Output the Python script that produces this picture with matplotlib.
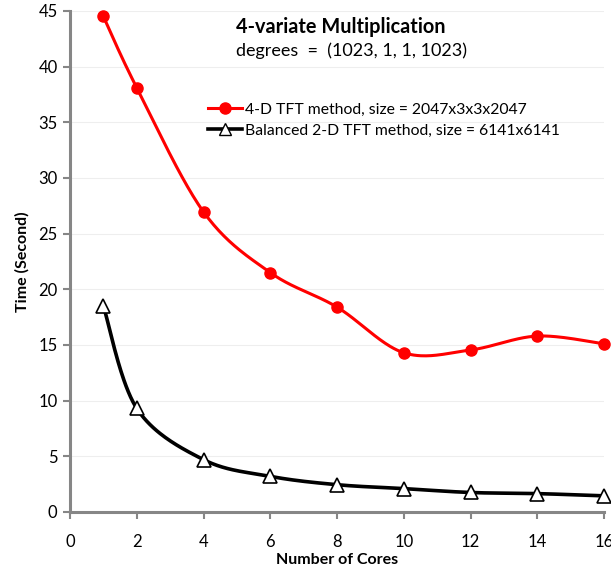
import numpy as np
import matplotlib
matplotlib.use('Agg')
import matplotlib.pyplot as plt

plt.rcParams['font.family'] = ['Lato', 'DejaVu Sans']

cores = [1, 2, 4, 6, 8, 10, 12, 14, 16]
tft4d = [44.5, 38.1, 26.95, 21.5, 18.4, 14.3, 14.55, 15.8, 15.1]
tft2d = [18.5, 9.3, 4.7, 3.2, 2.45, 2.1, 1.75, 1.65, 1.45]


def smooth(xs, ys, n=40):
    # Excel-style smoothed line: cubic Bezier segments with Catmull-Rom controls
    x = np.asarray(xs, float)
    y = np.asarray(ys, float)
    px = np.concatenate([[x[0]], x, [x[-1]]])
    py = np.concatenate([[y[0]], y, [y[-1]]])
    t = np.linspace(0, 1, n)
    ox, oy = [], []
    for i in range(len(x) - 1):
        p0 = np.array([px[i + 1], py[i + 1]])
        p3 = np.array([px[i + 2], py[i + 2]])
        c1 = p0 + (np.array([px[i + 2], py[i + 2]]) - np.array([px[i], py[i]])) / 6
        c2 = p3 - (np.array([px[i + 3], py[i + 3]]) - np.array([px[i + 1], py[i + 1]])) / 6
        b = (np.outer((1 - t) ** 3, p0) + np.outer(3 * (1 - t) ** 2 * t, c1)
             + np.outer(3 * (1 - t) * t ** 2, c2) + np.outer(t ** 3, p3))
        ox.extend(b[:, 0])
        oy.extend(b[:, 1])
    return ox, oy


fig = plt.figure(figsize=(6.11, 5.75), dpi=100)
ax = fig.add_axes([0.1146, 0.1096, 0.874, 0.8714])

sx, sy = smooth(cores, tft4d)
ax.plot(sx, sy, color='#ff0000', lw=2.2, clip_on=False)
ax.plot(cores, tft4d, 'o', color='#ff0000', ms=8, clip_on=False)
sx, sy = smooth(cores, tft2d)
ax.plot(sx, sy, color='black', lw=2.6, clip_on=False)
ax.plot(cores, tft2d, '^', mfc='white', mec='black', mew=1.2, ms=10,
        clip_on=False)

ax.set_xlim(0, 16)
ax.set_ylim(0, 45)
ax.set_xticks(range(0, 17, 2))
ax.set_yticks(range(0, 46, 5))
ax.grid(axis='y', color='#eeeeee', lw=0.8)
ax.set_axisbelow(True)
for s in ['top', 'right']:
    ax.spines[s].set_visible(False)
for s in ['left', 'bottom']:
    ax.spines[s].set_color('#868686')
    ax.spines[s].set_linewidth(2.2)
ax.tick_params(axis='both', colors='#868686', width=1.5, length=5,
               labelsize=12, labelcolor='black', pad=4)
ax.tick_params(axis='x', pad=11)
ax.set_xlabel('Number of Cores', fontsize=11.5, fontweight='bold', labelpad=2)
ax.set_ylabel('Time (Second)', fontsize=11.5, fontweight='bold', labelpad=6)

fig.text(0.386, 0.953, '4-variate Multiplication', fontsize=14.3,
         fontweight='bold', va='center')
fig.text(0.386, 0.912, 'degrees  =  (1023, 1, 1, 1023)', fontsize=13,
         va='center')

h1, = ax.plot([], [], '-o', color='#ff0000', lw=2.2, ms=8)
h2, = ax.plot([], [], '-^', color='black', lw=2.6, mfc='white', mec='black',
              ms=8)
ax.legend([h1, h2], ['4-D TFT method, size = 2047x3x3x2047',
                     'Balanced 2-D TFT method, size = 6141x6141'],
          loc='upper left', bbox_to_anchor=(0.327, 0.835),
          bbox_transform=fig.transFigure, frameon=False, fontsize=11.3,
          handlelength=2.2, handletextpad=0.15, borderpad=0, labelspacing=0.45)

fig.savefig('out.png', dpi=100)
